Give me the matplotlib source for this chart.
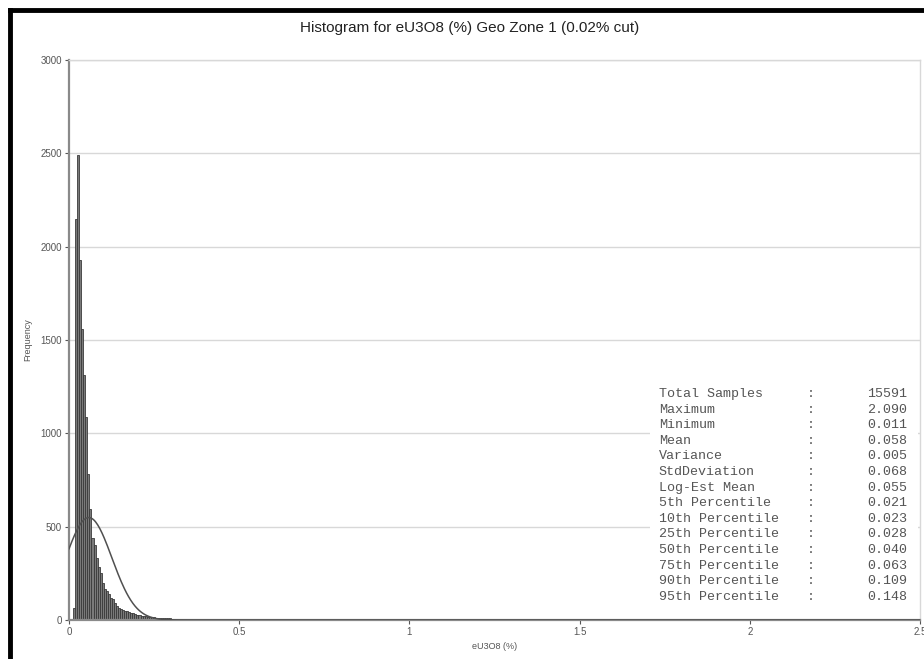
#import from libraries
import numpy as np
import matplotlib
matplotlib.use('Agg')
import matplotlib.pyplot as plt
from matplotlib.lines import Line2D

# histogram bins (0.006 wide, starting at 0.012)
bin_start = 0.012
bin_width = 0.006
counts = [65, 2150, 2490, 1930, 1560, 1310, 1085, 780, 595, 440,
          400, 330, 285, 250, 200, 165, 155, 140, 120, 110,
          90, 75, 65, 60, 55, 50, 46, 42, 38, 35,
          32, 29, 26, 24, 22, 20, 18, 17, 15, 14,
          13, 12, 11, 10, 9, 9, 8, 8, 7, 7,
          6, 6, 5, 5, 5, 4, 4, 4, 3, 3,
          3, 3, 2, 2, 2, 2, 2, 2, 2, 2,
          1, 2, 1, 1, 2, 1, 1, 1, 1, 1]

# summary statistics
total_samples = 15591
mean = 0.058
std = 0.068
stat_names = ['Total Samples', 'Maximum', 'Minimum', 'Mean', 'Variance',
              'StdDeviation', 'Log-Est Mean', '5th Percentile',
              '10th Percentile', '25th Percentile', '50th Percentile',
              '75th Percentile', '90th Percentile', '95th Percentile']
stat_values = ['15591', '2.090', '0.011', '0.058', '0.005', '0.068', '0.055',
               '0.021', '0.023', '0.028', '0.040', '0.063', '0.109', '0.148']

x_ticks = [0, 0.5, 1, 1.5, 2, 2.5]
x_tick_labels = ['0', '0.5', '1', '1.5', '2', '2.5']
y_ticks = [0, 500, 1000, 1500, 2000, 2500, 3000]

plt.rcParams['font.family'] = ['Liberation Sans', 'DejaVu Sans']

fig = plt.figure(figsize=(9.24, 6.59), dpi=100)
ax = fig.add_axes([0.0747, 0.0592, 0.9210, 0.8498])

# bars
edges = bin_start + bin_width * np.arange(len(counts))
ax.bar(edges, counts, width=bin_width, align='edge',
       facecolor='#7a7a7a', edgecolor='#3a3a3a', linewidth=0.6, zorder=2)

# fitted normal curve scaled to the counts
xs = np.linspace(0, 2.5, 800)
pdf = np.exp(-0.5 * ((xs - mean) / std) ** 2) / (std * np.sqrt(2 * np.pi))
ax.plot(xs, total_samples * bin_width * pdf, color='#505050', linewidth=1.1, zorder=3)

ax.set_xlim(0, 2.5)
ax.set_ylim(0, 3000)
ax.set_xticks(x_ticks)
ax.set_xticklabels(x_tick_labels)
ax.set_yticks(y_ticks)
ax.tick_params(axis='both', labelsize=7, colors='#555555', length=3, width=0.8, pad=2)
ax.yaxis.grid(True, color='#d8d8d8', linewidth=1.0, zorder=0)
ax.set_axisbelow(True)

for side in ['left', 'bottom']:
    ax.spines[side].set_color('#8a8a8a')
    ax.spines[side].set_linewidth(1.6)
for side in ['top', 'right']:
    ax.spines[side].set_color('#d8d8d8')
    ax.spines[side].set_linewidth(1.0)

ax.set_xlabel('eU3O8 (%)', fontsize=6.5, color='#555555', labelpad=4)
ax.set_ylabel('Frequency', fontsize=6.5, color='#555555', labelpad=6)

fig.text(0.508, 0.957, 'Histogram for eU3O8 (%) Geo Zone 1 (0.02% cut)',
         ha='center', va='center', fontsize=11, color='#222222')

# stats table
box = plt.Rectangle((0.703, 0.080), 0.290, 0.335, transform=fig.transFigure,
                    facecolor='white', edgecolor='none', zorder=1)
fig.patches.append(box)
row_top = 1 - 394 / 659
row_step = 15.6 / 659
for i, (name, val) in enumerate(zip(stat_names, stat_values)):
    y = row_top - i * row_step
    fig.text(0.713, y, name, family='Liberation Mono', fontsize=9.6,
             color='#555555', va='center')
    fig.text(0.873, y, ':', family='Liberation Mono', fontsize=9.6,
             color='#555555', va='center')
    fig.text(0.982, y, val, family='Liberation Mono', fontsize=9.6,
             color='#555555', va='center', ha='right')

# black frame on the left and top
fig.add_artist(Line2D([10 / 924, 10 / 924], [0, 1 - 10 / 659],
                      transform=fig.transFigure, color='black', linewidth=3.5))
fig.add_artist(Line2D([10 / 924, 1], [1 - 10 / 659, 1 - 10 / 659],
                      transform=fig.transFigure, color='black', linewidth=3.5))

fig.savefig('out.png', dpi=100)
